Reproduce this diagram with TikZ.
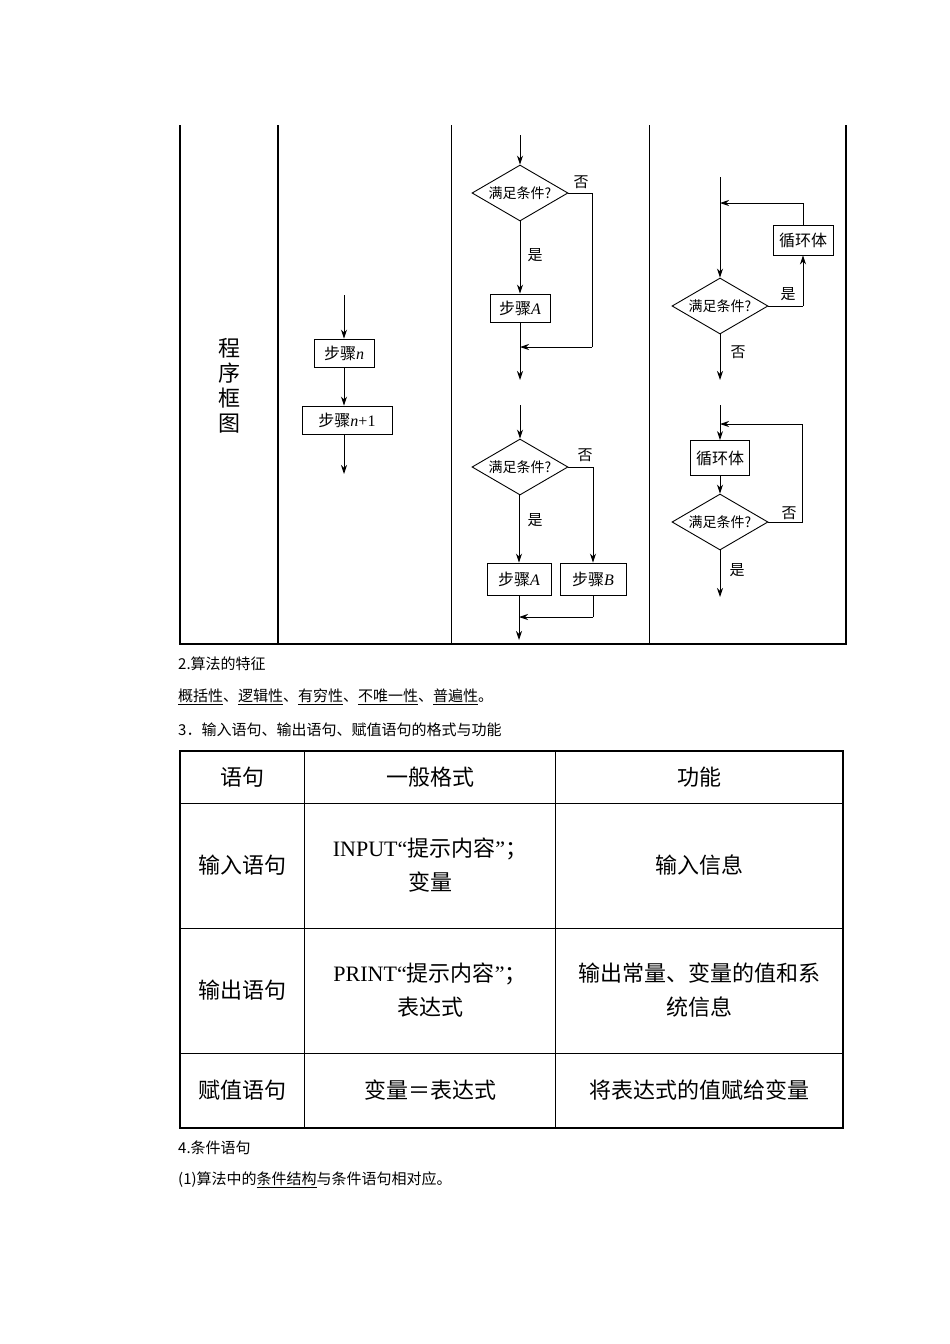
\documentclass[tikz,border=0pt]{standalone}
\usepackage{fontspec}
\setmainfont{Liberation Serif}
\newfontfamily\cjk{Noto Sans CJK SC}
\newcommand{\mi}[1]{\textrm{\textit{#1}}}
\usetikzlibrary{shapes.geometric,arrows.meta}
\begin{document}
\begin{tikzpicture}[x=1pt,y=-1pt,
  ar/.style={-{Stealth[length=9pt,width=6pt]},line width=0.9pt},
  ln/.style={line width=0.9pt},
  bx/.style={draw,line width=0.9pt,font=\cjk\fontsize{16}{18}\selectfont,inner sep=0pt,minimum height=28pt},
  dm/.style={draw,diamond,line width=0.9pt,aspect=1.7,inner sep=0pt,minimum width=96pt,minimum height=56pt,font=\cjk\fontsize{14}{16}\selectfont},
  lb/.style={font=\cjk\fontsize{15}{17}\selectfont,inner sep=0pt},
  tx/.style={font=\cjk\fontsize{15}{18}\selectfont,anchor=west,inner sep=0pt},
  tc/.style={font=\cjk\fontsize{22}{34}\selectfont,align=center,inner sep=0pt}]
\useasboundingbox (0,0) rectangle (950,1344);
% ---------- top table ----------
\draw[line width=2pt] (180,125) -- (180,644) -- (846,644) -- (846,125);
\draw[line width=1.3pt] (278,125) -- (278,644);
\draw[line width=0.9pt] (451,125) -- (451,644);
\draw[line width=0.9pt] (649,125) -- (649,644);
\node[font=\cjk\fontsize{22}{25}\selectfont,align=center,inner sep=0pt] (lab) at (229,386) {程\\序\\框\\图};
% column 2
\coordinate (s0) at (344,295);
\node[bx,minimum width=60pt] (sn) at (344,353) {步骤\mi{n}};
\node[bx,minimum width=90pt] (sn1) at (347,420) {步骤\mi{n}\textrm{+1}};
\coordinate (s1) at (344,474);
\draw[ar] (s0) -- (sn);
\draw[ar] (sn) -- (sn.south |- sn1.north);
\draw[ar] (sn.south |- sn1.south) -- (s1);
% column 3 top
\coordinate (a0) at (520,135);
\node[dm] (d1) at (520,193) {满足条件?};
\node[bx,minimum width=60pt] (A1) at (520,308) {步骤\mi{A}};
\coordinate (a1) at (592,193);
\coordinate (a2) at (592,347);
\coordinate (a3) at (520,347);
\coordinate (a4) at (520,380);
\draw[ar] (a0) -- (d1);
\draw[ar] (d1) -- (A1);
\draw[ln] (d1.east) -- (a1) -- (a2);
\draw[ar] (a2) -- (a3);
\draw[ar] (A1) -- (a4);
\node[lb] (n1) at (581,182) {否};
\node[lb] (y1) at (535,255) {是};
% column 3 bottom
\coordinate (b0) at (520,405);
\node[dm] (d2) at (520,467) {满足条件?};
\node[bx,minimum width=64pt,minimum height=32pt] (A2) at (519,579) {步骤\mi{A}};
\node[bx,minimum width=66pt,minimum height=32pt] (B2) at (593,579) {步骤\mi{B}};
\coordinate (b1) at (593,467);
\coordinate (b2) at (593,617);
\coordinate (b3) at (519,617);
\coordinate (b4) at (519,640);
\draw[ar] (b0) -- (d2);
\draw[ar] (d2.south -| A2.north) -- (A2);
\draw[ln] (d2.east) -- (b1);
\draw[ar] (b1) -- (B2);
\draw[ln] (B2) -- (b2);
\draw[ar] (b2) -- (b3);
\draw[ar] (A2) -- (b4);
\node[lb] (n2) at (585,455) {否};
\node[lb] (y2) at (535,520) {是};
% column 4 top
\coordinate (c0) at (720,177);
\node[dm] (d3) at (720,306) {满足条件?};
\node[bx,minimum width=60pt,minimum height=30pt] (L1) at (803,240) {循环体};
\coordinate (c1) at (803,306);
\coordinate (c2) at (803,203);
\coordinate (c3) at (720,203);
\coordinate (c4) at (720,380);
\draw[ar] (c0) -- (d3);
\draw[ln] (d3.east) -- (c1);
\draw[ar] (c1) -- (L1);
\draw[ln] (L1) -- (c2);
\draw[ar] (c2) -- (c3);
\draw[ar] (d3) -- (c4);
\node[lb] (y3) at (788,294) {是};
\node[lb] (n3) at (738,352) {否};
% column 4 bottom
\coordinate (e0) at (720,405);
\node[bx,minimum width=59pt,minimum height=35pt] (L2) at (720,458) {循环体};
\node[dm] (d4) at (720,522) {满足条件?};
\coordinate (e1) at (802,522);
\coordinate (e2) at (802,424);
\coordinate (e3) at (720,424);
\coordinate (e4) at (720,597);
\draw[ar] (e0) -- (L2);
\draw[ar] (L2) -- (d4);
\draw[ln] (d4.east) -- (e1) -- (e2);
\draw[ar] (e2) -- (e3);
\draw[ar] (d4) -- (e4);
\node[lb] (n4) at (789,513) {否};
\node[lb] (y4) at (737,570) {是};
% ---------- text ----------
\node[tx] (t2) at (178,664) {2.算法的特征};
\node[tx] (t2b) at (178,697) {\underline{概括性}、\underline{逻辑性}、\underline{有穷性}、\underline{不唯一性}、\underline{普遍性}。};
\node[tx] (t3) at (178,730) {3．输入语句、输出语句、赋值语句的格式与功能};
% ---------- lower table ----------
\draw[line width=2pt] (180,751) rectangle (843,1128);
\foreach \yy in {803,928,1053} \draw[line width=1pt] (180,\yy) -- (843,\yy);
\foreach \xx in {304,555} \draw[line width=1pt] (\xx,751) -- (\xx,1128);
\node[tc] (h1) at (242,777) {语句};
\node[tc] (h2) at (430,777) {一般格式};
\node[tc] (h3) at (699,777) {功能};
\node[tc] (r1a) at (242,865) {输入语句};
\node[tc] (r1b) at (430,865) {\textrm{INPUT“}提示内容\textrm{”}；\\变量};
\node[tc] (r1c) at (699,865) {输入信息};
\node[tc] (r2a) at (242,990) {输出语句};
\node[tc] (r2b) at (430,990) {\textrm{PRINT“}提示内容\textrm{”}；\\表达式};
\node[tc] (r2c) at (699,990) {输出常量、变量的值和系\\统信息};
\node[tc] (r3a) at (242,1090) {赋值语句};
\node[tc] (r3b) at (430,1090) {变量＝表达式};
\node[tc] (r3c) at (699,1090) {将表达式的值赋给变量};
\node[tx] (t4) at (178,1148) {4.条件语句};
\node[tx] (t41) at (178,1180) {(1)算法中的\underline{条件结构}与条件语句相对应。};
\end{tikzpicture}
\end{document}
